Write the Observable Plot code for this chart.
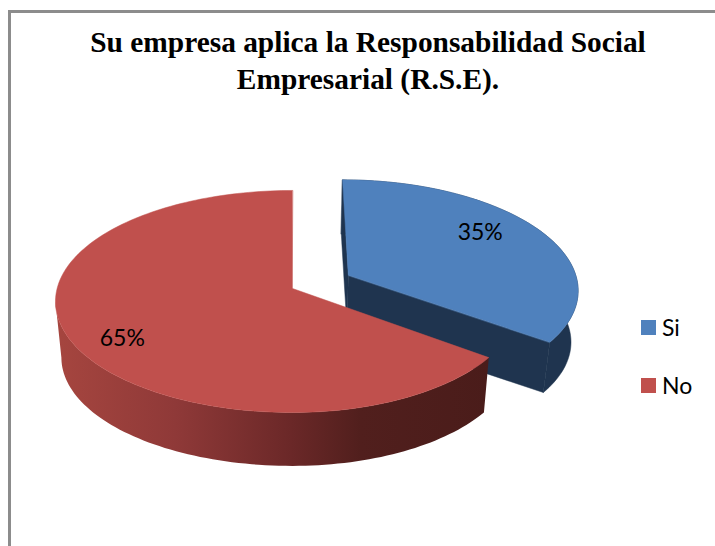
<!DOCTYPE html>
<html lang="es">
<head>
<meta charset="utf-8">
<script src="https://cdn.jsdelivr.net/npm/d3@7"></script>
<script src="https://cdn.jsdelivr.net/npm/@observablehq/plot@0.6"></script>
<style>
  html, body { margin: 0; background: #fff; }
  #page { position: relative; width: 715px; height: 546px; overflow: hidden; }
  #frame { position: absolute; left: 8px; top: 10px; right: -4px; bottom: -4px; z-index: 2;
           border-left: 3px solid #8c8c8c; border-top: 3px solid #8c8c8c; }
  #title { position: absolute; left: 10px; width: 716px; top: 24px; z-index: 3; text-align: center;
           font: bold 29.4px/37px "Liberation Serif", serif; color: #000; white-space: nowrap; }
  .key { position: absolute; left: 641px; z-index: 3; font: 23px "Lato", sans-serif; color: #000;
         display: flex; align-items: center; height: 16px; }
  .key i { display: block; width: 15px; height: 15px; margin-right: 6px; }
  svg { display: block; }
</style>
</head>
<body>
<div id="page">
  <div id="frame"></div>
  <div id="title"></div>
  <div id="chart"></div>
</div>
<script>
// Chart values
const titleLines = ["Su empresa aplica la Responsabilidad Social", "Empresarial (R.S.E)."];
const categories = ["Si", "No"];
const shares = [35, 65];
const topColors = ["#4f81bd", "#c0504d"];
const wallColors = ["#1f344f", null];
const explode = [0.27, 0];       // slice pull-out, as a fraction of the radius
const rightSqueeze = [0.98, 0.96]; // foreshortening of the right half of each rim
const sliceDepth = [51.5, 56.5];
const labelRadius = [0.7, 0.8];
const labelShiftX = [-3, 5];
const labelShiftY = [-10, 9];
const legendTops = [319, 377];

// Shading stops for the lit cylinder wall, from left to right across the pie
const wallStopX = [60, 175, 290, 360, 490];
const wallStopColor = ["#a5453f", "#8f3938", "#6b2828", "#511f1d", "#4a1c1a"];

// Perspective tilt of the disc: (u, v) in the pie's plane to page position
const cx = 292, cy = 288, a = 109.5, b = 235.4, k = 0.117;
const floorScale = 0.975;
const project = (u, v, drop = 0) => {
  const w = 1 - k * v, s = drop ? floorScale : 1;
  return [cx + s * b * u / w, cy + s * a * v / w + drop];
};
const rad = d => d * Math.PI / 180;
const rimPoint = (s, deg, r = 1) => {
  const sin = Math.sin(rad(deg));
  return [s.o[0] + r * sin * (sin > 0 ? rightSqueeze[s.i] : 1), s.o[1] - r * Math.cos(rad(deg))];
};
// Angle of the disc's leftmost point, where the side wall's silhouette begins
const leftmostAngle = 180 + Math.acos(k) * 180 / Math.PI;

// Slice angles come from the shares, clockwise from twelve o'clock
const total = d3.sum(shares);
let running = 0;
const slices = categories.map((name, i) => {
  const start = running / total * 360;
  running += shares[i];
  const end = running / total * 360, mid = (start + end) / 2;
  const o = [explode[i] * Math.sin(rad(mid)), -explode[i] * Math.cos(rad(mid))];
  return {name, i, start, end, mid, o, drop: sliceDepth[i]};
});
const arcAngles = (from, to, step = 1.5) => d3.range(from, to, step).concat(to);

// Dark walls of the pulled-out slice and the top faces, as polygons
const darkWalls = [], shadedWall = [], tops = [];
const addPoly = (list, id, fill, pts) => pts.forEach(p => list.push({id, fill, x: p[0], y: p[1]}));

slices.forEach(s => {
  const rim = arcAngles(s.start, s.end);
  if (wallColors[s.i]) {
    const c = wallColors[s.i], ap = project(...s.o), apLow = project(...s.o, s.drop);
    [s.start, s.end].forEach((edge, j) => addPoly(darkWalls, `${s.name}-cut-${j}`, c, [
      ap, project(...rimPoint(s, edge)), project(...rimPoint(s, edge), s.drop), apLow
    ]));
    addPoly(darkWalls, s.name + "-wall", c,
      rim.map(d => project(...rimPoint(s, d)))
         .concat(rim.slice().reverse().map(d => project(...rimPoint(s, d), s.drop))));
  } else {
    const visible = arcAngles(s.start, Math.min(s.end, leftmostAngle));
    addPoly(shadedWall, s.name + "-wall", "", visible.map(d => project(...rimPoint(s, d)))
      .concat(visible.slice().reverse().map(d => project(...rimPoint(s, d), s.drop))));
  }
});
slices.forEach(s => {
  const rim = arcAngles(s.start, s.end).map(d => project(...rimPoint(s, d)));
  addPoly(tops, s.name + "-top", topColors[s.i], [project(...s.o), ...rim]);
});

const labels = slices.map(s => {
  const [x, y] = project(...rimPoint(s, s.mid, labelRadius[s.i]));
  return {x: x + labelShiftX[s.i], y: y + labelShiftY[s.i], text: shares[s.i] + "%"};
});

// Horizontal gradient used by the shaded wall
const wallGradient = () => {
  const x0 = wallStopX[0], x1 = wallStopX[wallStopX.length - 1];
  const defs = d3.create("svg:defs");
  const g = defs.append("linearGradient").attr("id", "wall-shade")
    .attr("gradientUnits", "userSpaceOnUse")
    .attr("x1", x0).attr("x2", x1).attr("y1", 0).attr("y2", 0);
  wallStopX.forEach((x, i) => g.append("stop")
    .attr("offset", (x - x0) / (x1 - x0)).attr("stop-color", wallStopColor[i]));
  return defs.node();
};

const chart = Plot.plot({
  width: 715, height: 546, margin: 0,
  x: {domain: [0, 715], range: [0, 715], axis: null},
  y: {domain: [0, 546], range: [0, 546], axis: null},
  color: {type: "identity"},
  marks: [
    wallGradient,
    Plot.line(darkWalls, {x: "x", y: "y", z: "id", fill: "fill", stroke: "fill", strokeWidth: 0.5, curve: "linear-closed"}),
    Plot.line(shadedWall, {x: "x", y: "y", z: "id", fill: "url(#wall-shade)", stroke: "none", curve: "linear-closed"}),
    Plot.line(tops, {x: "x", y: "y", z: "id", fill: "fill", stroke: "fill", strokeWidth: 0.5, curve: "linear-closed"}),
    Plot.text(labels, {x: "x", y: "y", text: "text", fill: "#000", fontSize: 23, fontFamily: "Lato, sans-serif"})
  ]
});
document.getElementById("chart").append(chart);

// Title lines and the legend beside the pie
const page = document.getElementById("page");
titleLines.forEach(line => {
  const row = document.createElement("div");
  row.textContent = line;
  document.getElementById("title").append(row);
});
categories.forEach((name, i) => {
  const row = document.createElement("div");
  row.className = "key";
  row.style.top = legendTops[i] + "px";
  const swatch = document.createElement("i");
  swatch.style.background = topColors[i];
  row.append(swatch, name);
  page.append(row);
});
</script>
</body>
</html>
